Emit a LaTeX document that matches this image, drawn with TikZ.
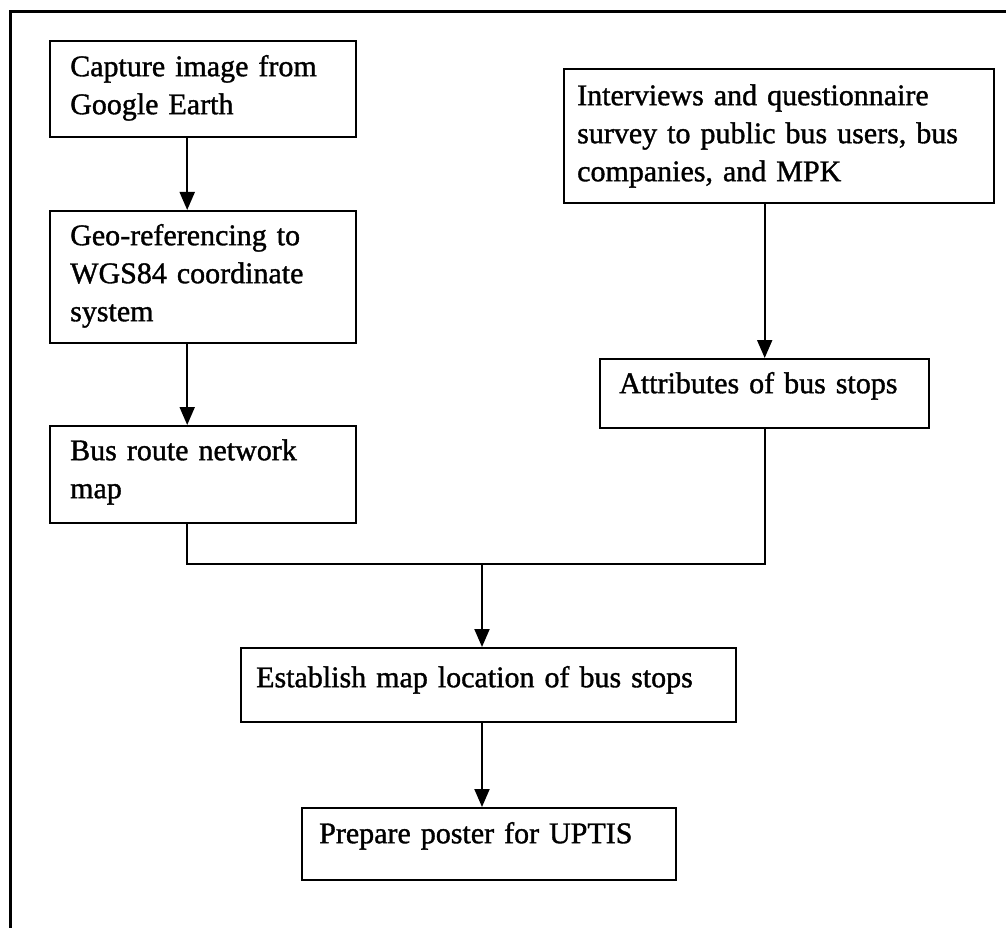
\documentclass[tikz,border=0pt]{standalone}
\usepackage{fontspec}
\setmainfont{Liberation Serif}[FakeBold=1.2]
\usetikzlibrary{arrows.meta}

\begin{document}
\begin{tikzpicture}[x=1pt,y=-1pt,>={Triangle[length=18pt,width=15pt]},
  stepbox/.style={draw,line width=2.4pt,anchor=north west,align=left,inner ysep=0pt,
    font=\fontsize{30}{38}\selectfont},
  link/.style={line width=2pt}]
  \useasboundingbox (0,0) rectangle (1006,928);
  \draw[line width=3pt] (10,928) -- (10,12) -- (1006,12);

  \node[stepbox,inner xsep=20pt,text width=266pt,text height=35pt,text depth=61pt] (cap) at (49,40) {Capture image from\\Google Earth};
  \node[stepbox,inner xsep=20pt,text width=266pt,text height=34pt,text depth=98pt] (geo) at (49,210) {Geo-referencing to\\WGS84 coordinate\\system};
  \node[stepbox,inner xsep=20pt,text width=266pt,text height=34pt,text depth=63pt] (bus) at (49,425) {Bus route network\\map};
  \node[stepbox,inner xsep=13pt,text width=404pt,text height=36pt,text depth=98pt] (inter) at (563,68) {Interviews and questionnaire\\survey to public bus users, bus\\companies, and MPK};
  \node[stepbox,inner xsep=19pt,text width=291pt,text height=34pt,text depth=35pt] (attr) at (599,358) {Attributes of bus stops};
  \node[stepbox,inner xsep=15pt,text width=465pt,text height=39pt,text depth=35pt] (est) at (240,647) {Establish map location of bus stops};
  \node[stepbox,inner xsep=17pt,text width=340pt,text height=35pt,text depth=37pt] (prep) at (301,807) {Prepare poster for UPTIS};

  \coordinate (j) at (482,564);

  \draw[link,->] ([xshift=-16pt]cap.south) -- ([xshift=-16pt]geo.north);
  \draw[link,->] ([xshift=-16pt]geo.south) -- ([xshift=-16pt]bus.north);
  \draw[link,->] (inter.south -| attr.north) -- (attr.north);
  \draw[link] ([xshift=-16pt]bus.south) |- (j) -| (attr.south);
  \draw[link,->] (j) -- (j |- est.north);
  \draw[link,->] (est.south -| j) -- (prep.north -| j);
\end{tikzpicture}
\end{document}
